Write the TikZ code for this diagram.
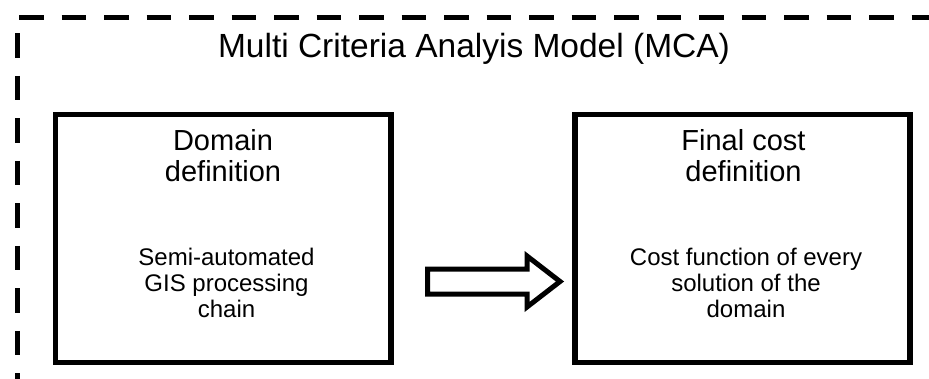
\documentclass[tikz,border=0pt]{standalone}
\usepackage{fontspec}
\setmainfont{Liberation Sans}
\begin{document}
\begin{tikzpicture}[x=1pt,y=-1pt,
  box/.style={draw,line width=5.5pt,minimum width=335.5pt,minimum height=248pt,inner sep=0pt},
  frame/.style={line width=5.3pt,dash pattern=on 24.5pt off 18pt},
  ttl/.style={font=\fontsize{33.5}{38}\selectfont,anchor=base,inner sep=0pt},
  head/.style={font=\fontsize{29}{32}\selectfont,anchor=base,inner sep=0pt},
  body/.style={font=\fontsize{24}{26}\selectfont,anchor=base,inner sep=0pt},
  blockarrow/.style={draw,line width=5pt,miter limit=10,line join=miter}]
\useasboundingbox (0,0) rectangle (929,378);
\begin{scope}
  \clip (0,0) rectangle (929,378);
  \draw[frame] (19,17.5) -- (980,17.5);
  \draw[frame] (17.5,33.3) -- (17.5,420);
\end{scope}
\node[ttl] (title) at (474,57.3) {Multi Criteria Analyis Model (MCA)};
\node[box] (dom) at (223.25,238.5) {};
\node[box,minimum width=335pt] (fin) at (742.5,238.5) {};
\node[head] (d1) at (223,150) {Domain};
\node[head] (d2) at (223,181.5) {definition};
\node[body] (d3) at (226.5,265.5) {Semi-automated};
\node[body] (d4) at (226.5,291.5) {GIS processing};
\node[body] (d5) at (226.5,317.5) {chain};
\node[head] (f1) at (743.5,150) {Final cost};
\node[head] (f2) at (743.5,181.5) {definition};
\node[body] (f3) at (746,265.5) {Cost function of every};
\node[body] (f4) at (746,291.5) {solution of the};
\node[body] (f5) at (746,317.5) {domain};
\draw[blockarrow] (427.5,269) -- (527,269) -- (527,256) -- (560,281.5)
  -- (527,307) -- (527,294) -- (427.5,294) -- cycle;
\end{tikzpicture}
\end{document}
